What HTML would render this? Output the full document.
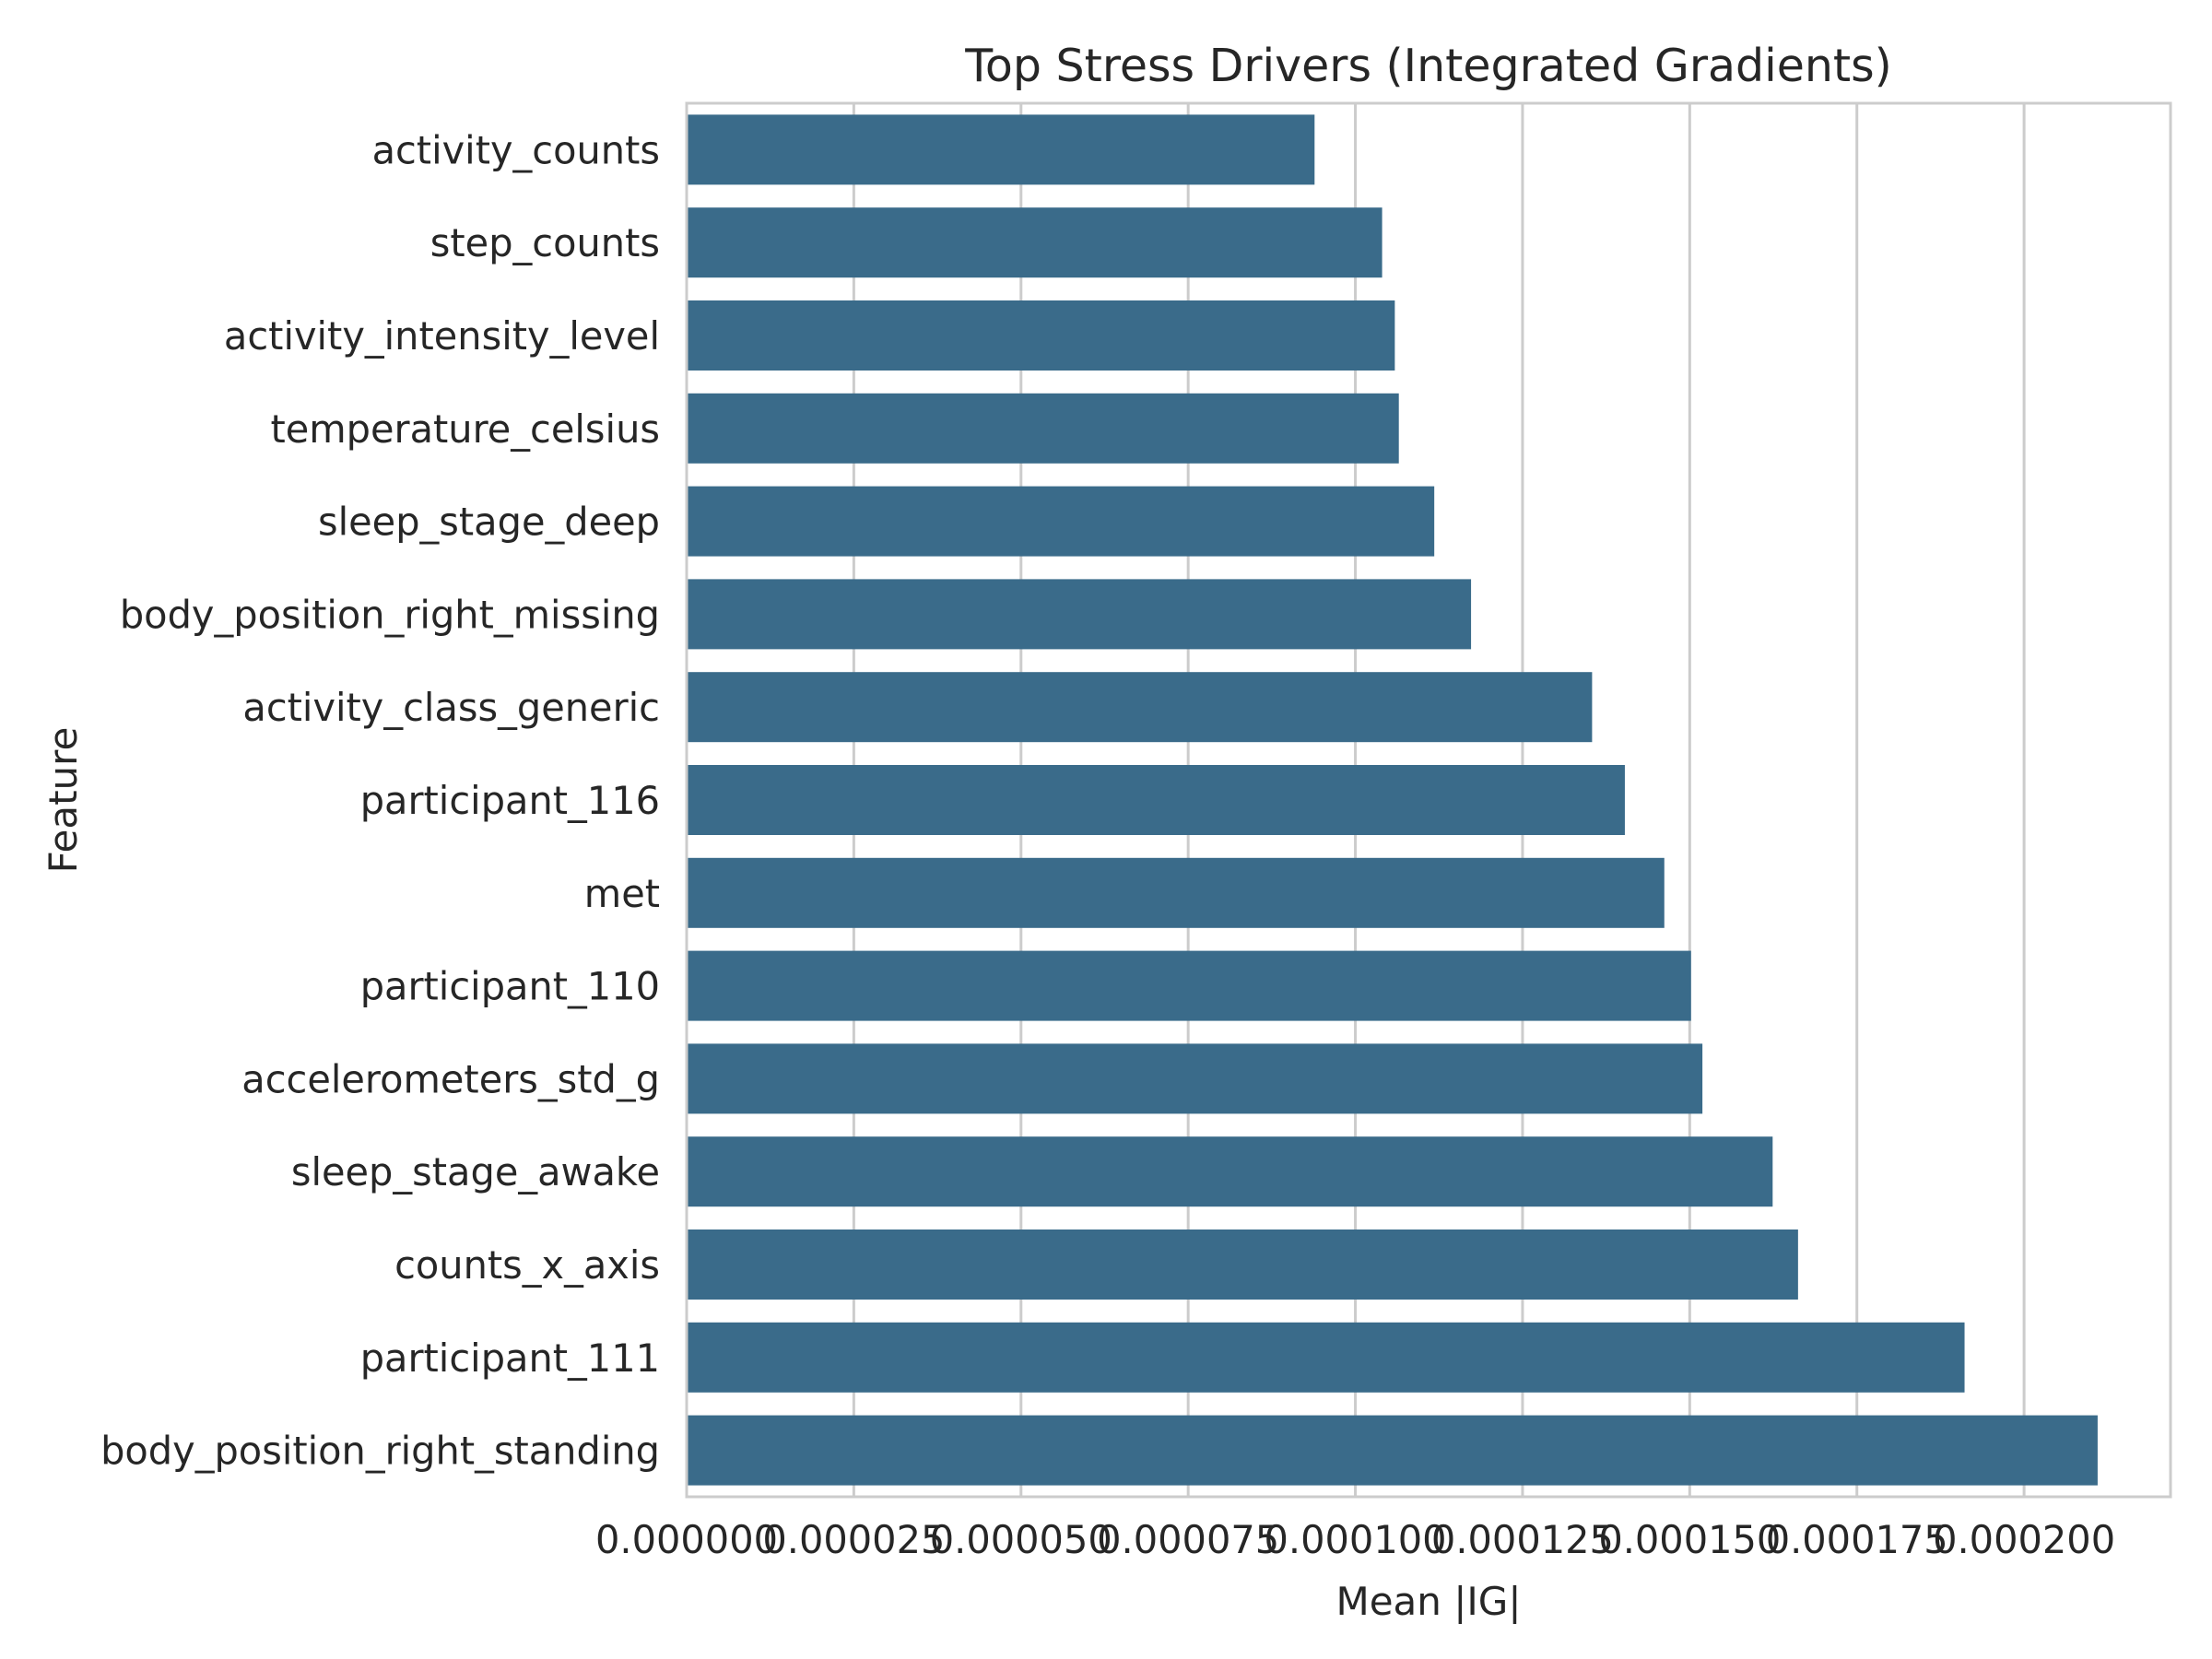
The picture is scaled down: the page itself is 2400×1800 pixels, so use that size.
<!DOCTYPE html>
<html><head><meta charset="utf-8"><style>
html,body{margin:0;padding:0;background:#fff;}
svg{display:block;font-family:"DejaVu Sans","Liberation Sans",sans-serif;}
</style></head><body>
<svg id="chart" width="2400" height="1800" viewBox="0 0 2400 1800" xmlns="http://www.w3.org/2000/svg">
<rect width="2400" height="1800" fill="#fff"/>
<g id="grid"></g><g id="bars"></g><g id="spines"></g><g id="ylabels"></g><g id="xlabels"></g>
<text x="1550" y="88" text-anchor="middle" font-size="49" fill="#262626">Top Stress Drivers (Integrated Gradients)</text>
<text x="1550" y="1752" text-anchor="middle" font-size="42" fill="#262626">Mean |IG|</text>
<text transform="translate(83,868) rotate(-90)" text-anchor="middle" font-size="42" fill="#262626">Feature</text>
</svg>
<script>
const categories = ["activity_counts","step_counts","activity_intensity_level","temperature_celsius","sleep_stage_deep","body_position_right_missing","activity_class_generic","participant_116","met","participant_110","accelerometers_std_g","sleep_stage_awake","counts_x_axis","participant_111","body_position_right_standing"];
const values = [0.0000939,0.000104,0.0001059,0.0001065,0.0001118,0.0001173,0.0001354,0.0001403,0.0001462,0.0001502,0.0001519,0.0001624,0.0001662,0.0001911,0.000211];
const tickValues = [0,0.000025,0.00005,0.000075,0.0001,0.000125,0.00015,0.000175,0.0002];
const tickLabels = ["0.000000","0.000025","0.000050","0.000075","0.000100","0.000125","0.000150","0.000175","0.000200"];
const L=745,R=2355,T=112,B=1624,XMAX=0.0002219;
const NS="http://www.w3.org/2000/svg";
const xs=v=>L+(v/XMAX)*(R-L);
const band=(B-T)/categories.length;
const bh=76;
const yc=i=>T+band*(i+0.5);
function mk(tag,attrs,parent){const e=document.createElementNS(NS,tag);for(const k in attrs)e.setAttribute(k,attrs[k]);document.getElementById(parent).appendChild(e);return e;}
tickValues.forEach((v,i)=>{
  const g=mk('line',{x1:xs(v),x2:xs(v),y1:T,y2:B,stroke:'#cccccc','stroke-width':3},'grid');
  
  
  const t=mk('text',{x:xs(v),y:1685,'text-anchor':'middle','font-size':41.5,fill:'#262626'},'xlabels');
  t.textContent=tickLabels[i];
  
  
});
categories.forEach((c,i)=>{
  const r=mk('rect',{x:xs(0),y:yc(i)-bh/2,width:xs(values[i])-xs(0),height:bh,fill:'#3a6b8a'},'bars');
  
  
  const t=mk('text',{x:716,y:yc(i)+15,'text-anchor':'end','font-size':41.5,fill:'#262626'},'ylabels');
  t.textContent=c;
  
  
});
const sp=mk('rect',{x:L,y:T,width:R-L,height:B-T,fill:'none',stroke:'#cccccc','stroke-width':3},'spines');


</script>
</body></html>
